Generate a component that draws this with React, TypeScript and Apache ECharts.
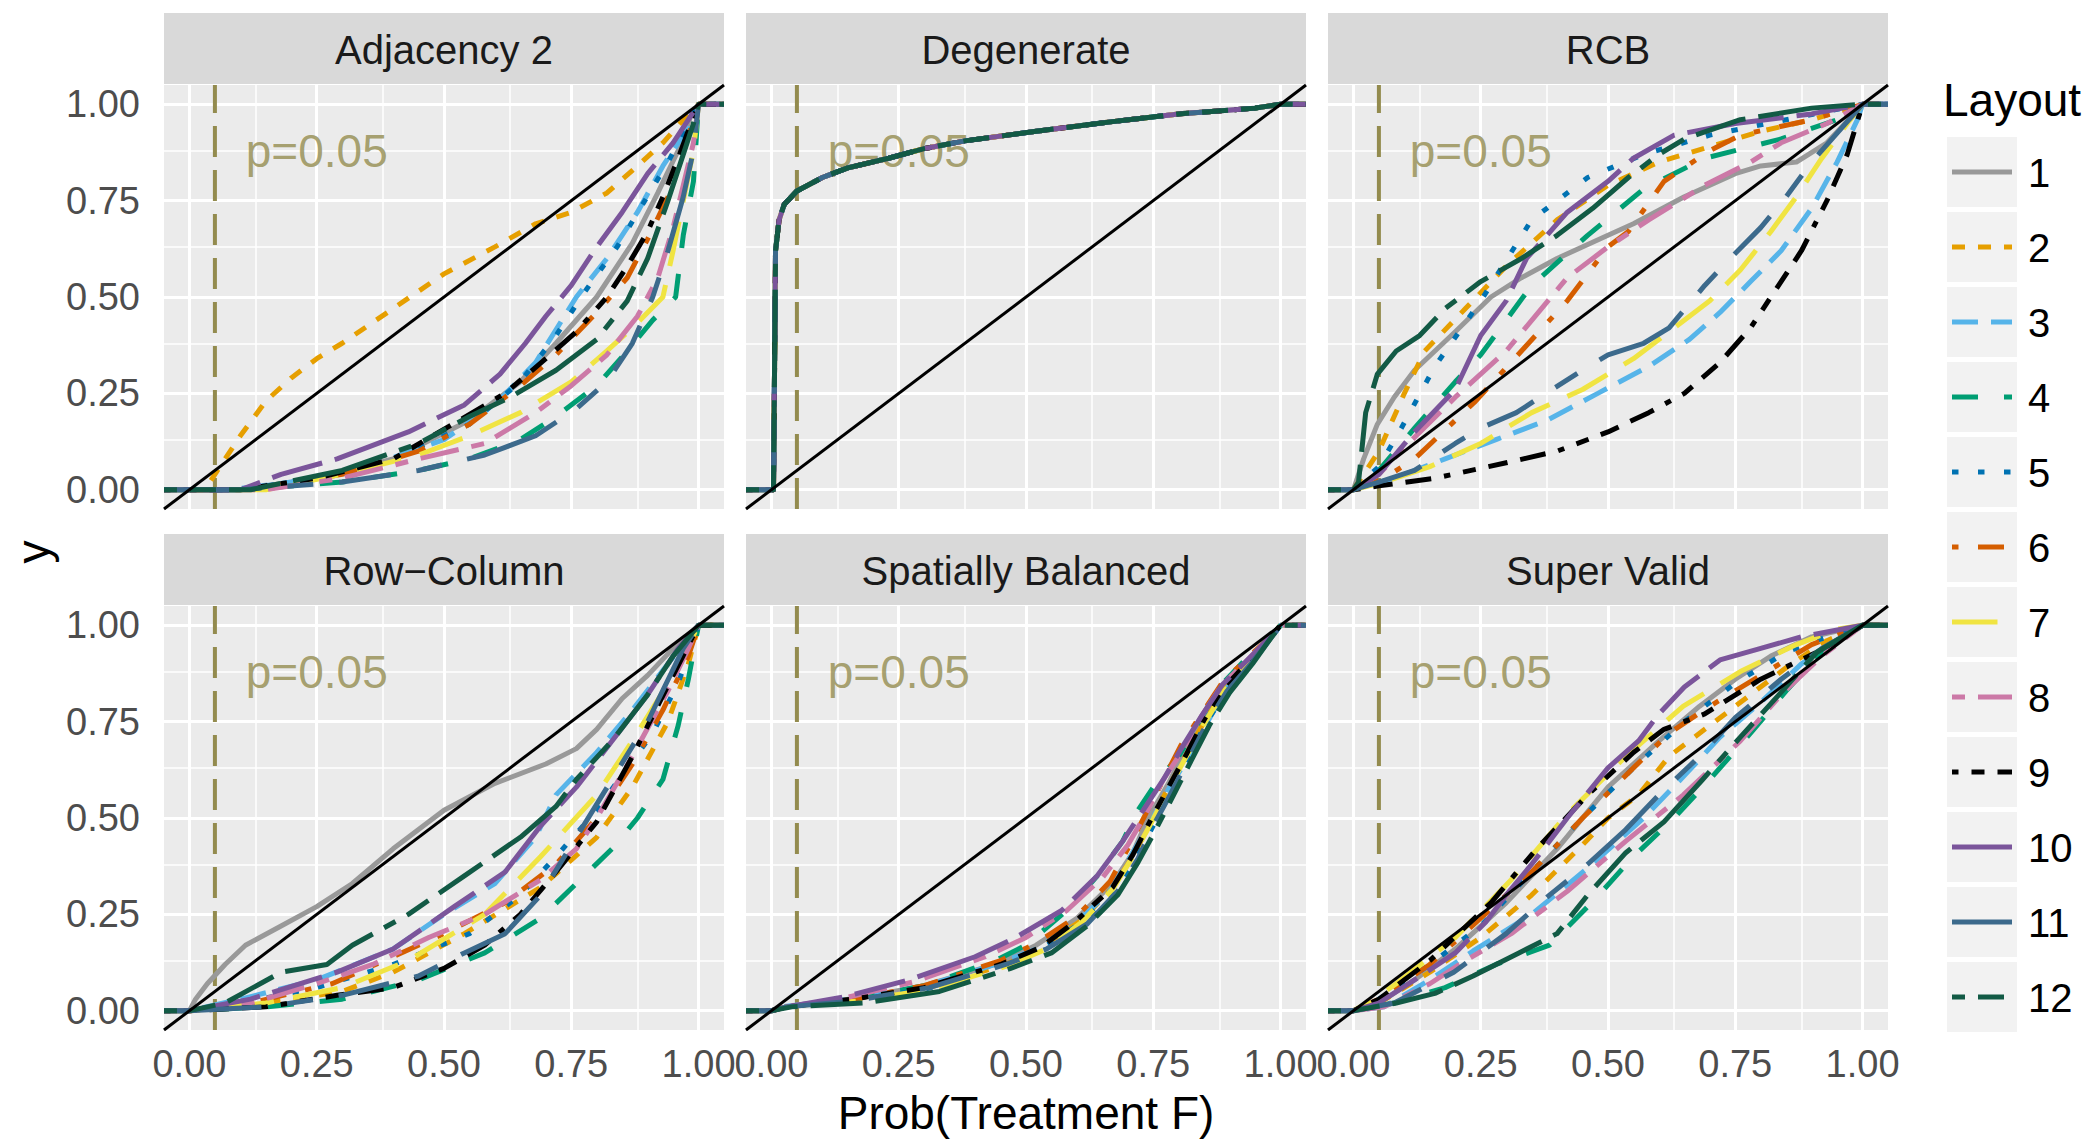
import React, { useEffect, useRef } from "react";
import * as echarts from "echarts";

type Pt = [number, number];

// ---------------- data ----------------
const layouts = ["1", "2", "3", "4", "5", "6", "7", "8", "9", "10", "11", "12"];
const layoutColors = [
  "#999999", "#E69F00", "#56B4E9", "#009E73", "#0072B2", "#D55E00",
  "#F0E442", "#CC79A7", "#000000", "#7B559B", "#3C6A8C", "#125A45",
];
// ggplot linetype palette (units of line width)
const layoutDashUnits: (number[] | null)[] = [
  null, [2, 2], [4, 2], [4, 4], [1, 3], [1, 3, 4, 3], [7, 3], [2, 2, 6, 2],
  [1, 2, 2, 2, 3, 2, 4, 2], [15, 2, 8, 2], [15, 4, 4, 4, 8, 4, 4, 4], [2, 2, 4, 2, 8, 2, 15, 2],
];
const panelTitles = ["Adjacency 2", "Degenerate", "RCB", "Row\u2212Column", "Spatially Balanced", "Super Valid"];
const majorTicks = [0, 0.25, 0.5, 0.75, 1];
const minorTicks = [0.125, 0.375, 0.625, 0.875];
const axisMin = -0.05;
const axisMax = 1.05;
const pValue = 0.05;
const pLabel = "p=0.05";
const pLabelPos: Pt = [0.25, 0.88];
const xTitle = "Prob(Treatment F)";
const yTitle = "y";
const legendTitle = "Layout";

const adjacency2: Pt[][] = [
  [[-0.05, 0], [0.1, 0], [0.25, 0.03], [0.4, 0.08], [0.55, 0.18], [0.65, 0.28], [0.72, 0.38], [0.8, 0.5], [0.87, 0.64], [0.92, 0.77], [0.96, 0.88], [0.985, 0.97], [1, 1], [1.05, 1]],
  [[-0.05, 0], [0.03, 0], [0.05, 0.04], [0.1, 0.14], [0.15, 0.23], [0.2, 0.29], [0.25, 0.34], [0.3, 0.38], [0.4, 0.47], [0.5, 0.56], [0.6, 0.63], [0.68, 0.69], [0.75, 0.72], [0.82, 0.77], [0.88, 0.84], [0.93, 0.9], [0.97, 0.96], [1, 1], [1.05, 1]],
  [[-0.05, 0], [0.08, 0], [0.2, 0.02], [0.35, 0.06], [0.5, 0.13], [0.6, 0.22], [0.68, 0.33], [0.76, 0.5], [0.82, 0.6], [0.88, 0.72], [0.93, 0.84], [0.975, 0.93], [1, 1], [1.05, 1]],
  [[-0.05, 0], [0.1, 0], [0.3, 0.02], [0.45, 0.05], [0.55, 0.08], [0.65, 0.13], [0.72, 0.19], [0.8, 0.27], [0.86, 0.36], [0.91, 0.44], [0.955, 0.5], [0.97, 0.66], [0.99, 0.8], [1, 1], [1.05, 1]],
  [[-0.05, 0], [0.1, 0], [0.25, 0.03], [0.4, 0.08], [0.55, 0.17], [0.65, 0.28], [0.72, 0.4], [0.78, 0.52], [0.84, 0.63], [0.89, 0.74], [0.94, 0.85], [0.98, 0.95], [1, 1], [1.05, 1]],
  [[-0.05, 0], [0.12, 0], [0.3, 0.04], [0.45, 0.1], [0.55, 0.17], [0.65, 0.27], [0.72, 0.35], [0.8, 0.46], [0.86, 0.55], [0.9, 0.65], [0.94, 0.76], [0.97, 0.88], [1, 1], [1.05, 1]],
  [[-0.05, 0], [0.15, 0], [0.3, 0.04], [0.45, 0.09], [0.55, 0.14], [0.65, 0.2], [0.75, 0.28], [0.82, 0.36], [0.87, 0.42], [0.93, 0.5], [0.95, 0.62], [0.97, 0.75], [0.99, 0.88], [1, 1], [1.05, 1]],
  [[-0.05, 0], [0.15, 0], [0.3, 0.03], [0.45, 0.08], [0.58, 0.12], [0.68, 0.2], [0.75, 0.27], [0.82, 0.35], [0.88, 0.45], [0.92, 0.55], [0.95, 0.68], [0.97, 0.79], [0.99, 0.9], [1, 1], [1.05, 1]],
  [[-0.05, 0], [0.1, 0], [0.25, 0.03], [0.4, 0.08], [0.53, 0.18], [0.62, 0.25], [0.7, 0.34], [0.76, 0.41], [0.82, 0.5], [0.86, 0.58], [0.9, 0.67], [0.93, 0.76], [0.96, 0.86], [0.985, 0.95], [1, 1], [1.05, 1]],
  [[-0.05, 0], [0.1, 0], [0.18, 0.04], [0.29, 0.08], [0.43, 0.15], [0.54, 0.22], [0.61, 0.3], [0.66, 0.38], [0.7, 0.45], [0.75, 0.53], [0.8, 0.63], [0.85, 0.72], [0.9, 0.82], [0.95, 0.9], [0.99, 0.98], [1, 1], [1.05, 1]],
  [[-0.05, 0], [0.1, 0], [0.3, 0.02], [0.45, 0.05], [0.58, 0.09], [0.68, 0.14], [0.76, 0.21], [0.82, 0.28], [0.87, 0.38], [0.91, 0.5], [0.94, 0.62], [0.97, 0.76], [0.99, 0.88], [1, 1], [1.05, 1]],
  [[-0.05, 0], [0.12, 0], [0.3, 0.05], [0.45, 0.12], [0.55, 0.19], [0.63, 0.24], [0.72, 0.31], [0.8, 0.39], [0.86, 0.49], [0.9, 0.6], [0.94, 0.75], [0.97, 0.87], [0.99, 0.95], [1, 1], [1.05, 1]],
];

const degenerateCurve: Pt[] = [
  [-0.05, 0], [0.004, 0], [0.006, 0.3], [0.008, 0.62], [0.015, 0.7], [0.025, 0.74], [0.05, 0.775], [0.1, 0.81], [0.15, 0.835],
  [0.23, 0.86], [0.3, 0.885], [0.38, 0.905], [0.52, 0.93], [0.67, 0.955], [0.8, 0.975], [0.95, 0.99], [1, 1], [1.05, 1],
];
const degenerate: Pt[][] = layouts.map(() => degenerateCurve);

const rcb: Pt[][] = [
  [[-0.05, 0], [0, 0], [0.02, 0.08], [0.047, 0.17], [0.08, 0.24], [0.12, 0.31], [0.2, 0.41], [0.27, 0.5], [0.33, 0.55], [0.4, 0.6], [0.5, 0.66], [0.55, 0.69], [0.65, 0.76], [0.75, 0.82], [0.8, 0.84], [0.87, 0.85], [0.93, 0.9], [0.98, 0.97], [1, 1], [1.05, 1]],
  [[-0.05, 0], [0, 0], [0.05, 0.1], [0.1, 0.25], [0.14, 0.36], [0.22, 0.47], [0.3, 0.58], [0.4, 0.7], [0.5, 0.79], [0.6, 0.85], [0.7, 0.89], [0.8, 0.93], [0.9, 0.96], [1, 1], [1.05, 1]],
  [[-0.05, 0], [0, 0], [0.08, 0.03], [0.18, 0.08], [0.28, 0.13], [0.38, 0.18], [0.48, 0.25], [0.58, 0.32], [0.66, 0.39], [0.72, 0.46], [0.78, 0.54], [0.84, 0.62], [0.9, 0.73], [0.95, 0.85], [0.99, 0.96], [1, 1], [1.05, 1]],
  [[-0.05, 0], [0, 0], [0.05, 0.05], [0.12, 0.16], [0.2, 0.28], [0.25, 0.35], [0.35, 0.53], [0.46, 0.66], [0.57, 0.78], [0.69, 0.86], [0.84, 0.91], [0.95, 0.96], [1, 1], [1.05, 1]],
  [[-0.05, 0], [0, 0], [0.05, 0.06], [0.09, 0.15], [0.16, 0.32], [0.25, 0.49], [0.35, 0.7], [0.46, 0.81], [0.57, 0.87], [0.7, 0.92], [0.85, 0.96], [1, 1], [1.05, 1]],
  [[-0.05, 0], [0, 0], [0.06, 0.03], [0.12, 0.08], [0.24, 0.23], [0.33, 0.36], [0.42, 0.49], [0.5, 0.63], [0.54, 0.67], [0.61, 0.8], [0.7, 0.88], [0.76, 0.92], [0.9, 0.96], [1, 1], [1.05, 1]],
  [[-0.05, 0], [0, 0], [0.06, 0.02], [0.15, 0.06], [0.25, 0.12], [0.35, 0.2], [0.45, 0.26], [0.55, 0.34], [0.63, 0.42], [0.7, 0.49], [0.76, 0.57], [0.82, 0.67], [0.87, 0.76], [0.92, 0.86], [0.97, 0.95], [1, 1], [1.05, 1]],
  [[-0.05, 0], [0, 0], [0.05, 0.04], [0.1, 0.11], [0.2, 0.24], [0.3, 0.36], [0.42, 0.55], [0.5, 0.63], [0.58, 0.7], [0.69, 0.79], [0.78, 0.85], [0.84, 0.9], [0.93, 0.95], [1, 1], [1.05, 1]],
  [[-0.05, 0], [0, 0], [0.05, 0.01], [0.16, 0.03], [0.3, 0.07], [0.4, 0.1], [0.5, 0.15], [0.58, 0.2], [0.65, 0.25], [0.72, 0.33], [0.78, 0.42], [0.83, 0.52], [0.88, 0.62], [0.93, 0.75], [0.97, 0.87], [1, 1], [1.05, 1]],
  [[-0.05, 0], [0, 0], [0.05, 0.04], [0.12, 0.15], [0.2, 0.26], [0.25, 0.4], [0.3, 0.49], [0.34, 0.6], [0.42, 0.72], [0.5, 0.8], [0.55, 0.86], [0.63, 0.92], [0.75, 0.95], [0.9, 0.975], [1, 1], [1.05, 1]],
  [[-0.05, 0], [0, 0], [0.05, 0.02], [0.12, 0.05], [0.2, 0.12], [0.25, 0.16], [0.32, 0.2], [0.39, 0.26], [0.45, 0.31], [0.5, 0.35], [0.57, 0.38], [0.62, 0.42], [0.69, 0.53], [0.74, 0.6], [0.8, 0.68], [0.85, 0.76], [0.9, 0.85], [0.96, 0.94], [1, 1], [1.05, 1]],
  [[-0.05, 0], [0, 0], [0.01, 0.02], [0.024, 0.2], [0.047, 0.3], [0.084, 0.36], [0.13, 0.4], [0.18, 0.47], [0.25, 0.54], [0.33, 0.6], [0.4, 0.66], [0.47, 0.73], [0.54, 0.81], [0.6, 0.87], [0.65, 0.91], [0.76, 0.96], [0.9, 0.99], [1, 1], [1.05, 1]],
];

const rowColumn: Pt[][] = [
  [[-0.05, 0], [0, 0], [0.012, 0.03], [0.035, 0.07], [0.07, 0.12], [0.11, 0.17], [0.18, 0.22], [0.25, 0.27], [0.32, 0.33], [0.4, 0.42], [0.5, 0.52], [0.6, 0.59], [0.7, 0.64], [0.76, 0.68], [0.8, 0.73], [0.85, 0.81], [0.9, 0.87], [0.95, 0.94], [1, 1], [1.05, 1]],
  [[-0.05, 0], [0, 0], [0.15, 0.02], [0.3, 0.05], [0.4, 0.1], [0.54, 0.2], [0.69, 0.32], [0.8, 0.45], [0.87, 0.58], [0.94, 0.75], [0.98, 0.9], [1, 1], [1.05, 1]],
  [[-0.05, 0], [0, 0], [0.1, 0.03], [0.25, 0.08], [0.4, 0.16], [0.5, 0.25], [0.6, 0.33], [0.68, 0.45], [0.72, 0.56], [0.8, 0.67], [0.87, 0.78], [0.94, 0.9], [1, 1], [1.05, 1]],
  [[-0.05, 0], [0, 0], [0.15, 0.01], [0.3, 0.03], [0.45, 0.08], [0.58, 0.15], [0.69, 0.24], [0.76, 0.33], [0.83, 0.42], [0.88, 0.5], [0.93, 0.6], [0.96, 0.74], [0.98, 0.86], [1, 1], [1.05, 1]],
  [[-0.05, 0], [0, 0], [0.1, 0.02], [0.25, 0.06], [0.4, 0.12], [0.55, 0.2], [0.65, 0.3], [0.72, 0.4], [0.8, 0.52], [0.86, 0.63], [0.91, 0.72], [0.96, 0.85], [1, 1], [1.05, 1]],
  [[-0.05, 0], [0, 0], [0.12, 0.02], [0.28, 0.07], [0.4, 0.14], [0.5, 0.2], [0.62, 0.28], [0.72, 0.38], [0.8, 0.5], [0.87, 0.64], [0.93, 0.78], [0.98, 0.92], [1, 1], [1.05, 1]],
  [[-0.05, 0], [0, 0], [0.15, 0.02], [0.3, 0.06], [0.43, 0.13], [0.58, 0.25], [0.69, 0.4], [0.8, 0.56], [0.87, 0.7], [0.95, 0.87], [1, 1], [1.05, 1]],
  [[-0.05, 0], [0, 0], [0.12, 0.02], [0.25, 0.07], [0.36, 0.12], [0.47, 0.19], [0.58, 0.25], [0.69, 0.34], [0.76, 0.42], [0.8, 0.5], [0.87, 0.66], [0.94, 0.83], [0.98, 0.94], [1, 1], [1.05, 1]],
  [[-0.05, 0], [0, 0], [0.15, 0.01], [0.29, 0.04], [0.4, 0.06], [0.5, 0.11], [0.58, 0.17], [0.65, 0.25], [0.72, 0.36], [0.8, 0.49], [0.87, 0.66], [0.95, 0.87], [1, 1], [1.05, 1]],
  [[-0.05, 0], [0, 0], [0.12, 0.03], [0.29, 0.1], [0.4, 0.16], [0.52, 0.27], [0.62, 0.36], [0.69, 0.48], [0.76, 0.58], [0.83, 0.7], [0.9, 0.82], [0.96, 0.94], [1, 1], [1.05, 1]],
  [[-0.05, 0], [0, 0], [0.15, 0.01], [0.3, 0.04], [0.45, 0.09], [0.54, 0.15], [0.62, 0.2], [0.69, 0.3], [0.76, 0.45], [0.83, 0.6], [0.9, 0.75], [0.97, 0.94], [1, 1], [1.05, 1]],
  [[-0.05, 0], [0, 0], [0.07, 0.02], [0.18, 0.1], [0.27, 0.12], [0.32, 0.17], [0.43, 0.25], [0.54, 0.35], [0.65, 0.45], [0.72, 0.53], [0.76, 0.6], [0.83, 0.7], [0.9, 0.82], [0.95, 0.92], [1, 1], [1.05, 1]],
];

const spatiallyBalanced: Pt[][] = [
  [[-0.05, 0], [0, 0], [0.03, 0.01], [0.16, 0.03], [0.3, 0.065], [0.45, 0.125], [0.52, 0.17], [0.6, 0.24], [0.67, 0.33], [0.71, 0.41], [0.74, 0.5], [0.78, 0.59], [0.81, 0.67], [0.85, 0.76], [0.89, 0.84], [0.94, 0.91], [0.98, 0.97], [1, 1], [1.05, 1]],
  [[-0.05, 0], [0, 0], [0.03, 0.01], [0.17, 0.03], [0.31, 0.06], [0.46, 0.12], [0.53, 0.165], [0.61, 0.235], [0.67, 0.32], [0.71, 0.4], [0.745, 0.49], [0.78, 0.58], [0.815, 0.665], [0.85, 0.75], [0.89, 0.835], [0.94, 0.905], [0.98, 0.97], [1, 1], [1.05, 1]],
  [[-0.05, 0], [0, 0], [0.02, 0.01], [0.15, 0.03], [0.29, 0.06], [0.44, 0.12], [0.52, 0.16], [0.6, 0.23], [0.665, 0.31], [0.705, 0.4], [0.745, 0.49], [0.78, 0.575], [0.82, 0.66], [0.855, 0.745], [0.89, 0.83], [0.94, 0.905], [0.98, 0.965], [1, 1], [1.05, 1]],
  [[-0.05, 0], [0, 0], [0.03, 0.01], [0.16, 0.03], [0.3, 0.065], [0.44, 0.13], [0.5, 0.17], [0.58, 0.26], [0.64, 0.35], [0.69, 0.44], [0.72, 0.52], [0.76, 0.6], [0.8, 0.66], [0.84, 0.75], [0.88, 0.84], [0.93, 0.91], [0.98, 0.97], [1, 1], [1.05, 1]],
  [[-0.05, 0], [0, 0], [0.02, 0.01], [0.15, 0.025], [0.3, 0.055], [0.45, 0.115], [0.53, 0.16], [0.61, 0.23], [0.675, 0.31], [0.715, 0.39], [0.75, 0.48], [0.785, 0.57], [0.82, 0.66], [0.855, 0.75], [0.895, 0.83], [0.94, 0.905], [0.98, 0.965], [1, 1], [1.05, 1]],
  [[-0.05, 0], [0, 0], [0.03, 0.01], [0.16, 0.03], [0.3, 0.065], [0.45, 0.13], [0.52, 0.175], [0.6, 0.245], [0.665, 0.335], [0.7, 0.42], [0.735, 0.51], [0.77, 0.6], [0.805, 0.69], [0.845, 0.77], [0.885, 0.85], [0.935, 0.915], [0.98, 0.97], [1, 1], [1.05, 1]],
  [[-0.05, 0], [0, 0], [0.03, 0.01], [0.17, 0.025], [0.31, 0.055], [0.46, 0.115], [0.54, 0.16], [0.61, 0.23], [0.67, 0.315], [0.71, 0.4], [0.745, 0.485], [0.78, 0.575], [0.815, 0.66], [0.85, 0.745], [0.89, 0.83], [0.94, 0.905], [0.98, 0.965], [1, 1], [1.05, 1]],
  [[-0.05, 0], [0, 0], [0.03, 0.01], [0.15, 0.035], [0.28, 0.075], [0.42, 0.14], [0.5, 0.19], [0.58, 0.26], [0.65, 0.345], [0.7, 0.43], [0.735, 0.51], [0.77, 0.6], [0.81, 0.68], [0.845, 0.765], [0.885, 0.845], [0.935, 0.91], [0.98, 0.97], [1, 1], [1.05, 1]],
  [[-0.05, 0], [0, 0], [0.03, 0.01], [0.16, 0.03], [0.3, 0.06], [0.45, 0.12], [0.53, 0.165], [0.6, 0.235], [0.67, 0.32], [0.71, 0.405], [0.745, 0.495], [0.78, 0.58], [0.815, 0.665], [0.85, 0.755], [0.89, 0.84], [0.94, 0.91], [0.98, 0.97], [1, 1], [1.05, 1]],
  [[-0.05, 0], [0, 0], [0.03, 0.01], [0.14, 0.035], [0.27, 0.08], [0.4, 0.14], [0.48, 0.19], [0.57, 0.26], [0.64, 0.35], [0.69, 0.44], [0.73, 0.52], [0.77, 0.6], [0.805, 0.68], [0.845, 0.765], [0.885, 0.845], [0.935, 0.91], [0.98, 0.97], [1, 1], [1.05, 1]],
  [[-0.05, 0], [0, 0], [0.03, 0.01], [0.16, 0.025], [0.31, 0.06], [0.46, 0.12], [0.54, 0.16], [0.62, 0.225], [0.68, 0.31], [0.72, 0.395], [0.75, 0.48], [0.785, 0.565], [0.82, 0.655], [0.855, 0.745], [0.895, 0.83], [0.945, 0.905], [0.98, 0.965], [1, 1], [1.05, 1]],
  [[-0.05, 0], [0, 0], [0.04, 0.01], [0.18, 0.02], [0.33, 0.05], [0.47, 0.11], [0.55, 0.15], [0.62, 0.22], [0.68, 0.3], [0.72, 0.385], [0.755, 0.47], [0.79, 0.56], [0.825, 0.65], [0.86, 0.74], [0.9, 0.825], [0.945, 0.9], [0.98, 0.965], [1, 1], [1.05, 1]],
];

const superValid: Pt[][] = [
  [[-0.05, 0], [0, 0], [0.05, 0.02], [0.12, 0.08], [0.2, 0.16], [0.3, 0.28], [0.4, 0.42], [0.5, 0.58], [0.6, 0.7], [0.68, 0.79], [0.75, 0.86], [0.82, 0.92], [0.9, 0.97], [1, 1], [1.05, 1]],
  [[-0.05, 0], [0, 0], [0.05, 0.02], [0.15, 0.1], [0.25, 0.19], [0.35, 0.3], [0.45, 0.43], [0.5, 0.5], [0.56, 0.56], [0.62, 0.66], [0.7, 0.74], [0.78, 0.82], [0.86, 0.9], [0.93, 0.96], [1, 1], [1.05, 1]],
  [[-0.05, 0], [0, 0], [0.06, 0.01], [0.15, 0.08], [0.235, 0.155], [0.35, 0.25], [0.46, 0.37], [0.57, 0.5], [0.65, 0.61], [0.72, 0.71], [0.8, 0.8], [0.88, 0.9], [0.95, 0.96], [1, 1], [1.05, 1]],
  [[-0.05, 0], [0, 0], [0.08, 0.02], [0.18, 0.06], [0.28, 0.12], [0.385, 0.17], [0.475, 0.29], [0.55, 0.4], [0.63, 0.5], [0.7, 0.6], [0.78, 0.72], [0.85, 0.83], [0.92, 0.93], [1, 1], [1.05, 1]],
  [[-0.05, 0], [0, 0], [0.05, 0.03], [0.15, 0.12], [0.25, 0.22], [0.35, 0.36], [0.45, 0.5], [0.55, 0.63], [0.65, 0.75], [0.75, 0.85], [0.85, 0.93], [0.95, 0.98], [1, 1], [1.05, 1]],
  [[-0.05, 0], [0, 0], [0.05, 0.03], [0.15, 0.12], [0.25, 0.24], [0.35, 0.36], [0.45, 0.5], [0.55, 0.63], [0.62, 0.72], [0.7, 0.79], [0.8, 0.87], [0.9, 0.95], [1, 1], [1.05, 1]],
  [[-0.05, 0], [0, 0], [0.04, 0.03], [0.084, 0.07], [0.2, 0.19], [0.31, 0.34], [0.42, 0.51], [0.535, 0.66], [0.648, 0.79], [0.76, 0.88], [0.87, 0.95], [0.95, 0.99], [1, 1], [1.05, 1]],
  [[-0.05, 0], [0, 0], [0.06, 0.01], [0.15, 0.07], [0.22, 0.13], [0.31, 0.2], [0.42, 0.31], [0.535, 0.44], [0.648, 0.56], [0.76, 0.7], [0.84, 0.82], [0.92, 0.92], [1, 1], [1.05, 1]],
  [[-0.05, 0], [0, 0], [0.05, 0.03], [0.15, 0.13], [0.27, 0.28], [0.36, 0.42], [0.46, 0.56], [0.55, 0.67], [0.61, 0.73], [0.69, 0.77], [0.8, 0.86], [0.91, 0.93], [1, 1], [1.05, 1]],
  [[-0.05, 0], [0, 0], [0.05, 0.02], [0.12, 0.08], [0.2, 0.15], [0.26, 0.23], [0.3, 0.3], [0.35, 0.38], [0.42, 0.5], [0.5, 0.63], [0.56, 0.7], [0.6, 0.77], [0.65, 0.84], [0.72, 0.91], [0.8, 0.94], [0.88, 0.97], [1, 1], [1.05, 1]],
  [[-0.05, 0], [0, 0], [0.08, 0.02], [0.197, 0.1], [0.3, 0.2], [0.385, 0.3], [0.46, 0.38], [0.535, 0.47], [0.6, 0.56], [0.68, 0.66], [0.75, 0.76], [0.84, 0.86], [0.92, 0.94], [1, 1], [1.05, 1]],
  [[-0.05, 0], [0, 0], [0.084, 0.02], [0.16, 0.045], [0.235, 0.09], [0.325, 0.15], [0.4, 0.2], [0.46, 0.3], [0.535, 0.41], [0.61, 0.49], [0.686, 0.6], [0.76, 0.71], [0.836, 0.82], [0.91, 0.93], [1, 1], [1.05, 1]],
];

const panels: Pt[][][] = [adjacency2, degenerate, rcb, rowColumn, spatiallyBalanced, superValid];

// ---------------- styling / layout ----------------
const FONT = "'Liberation Sans', Arial, Helvetica, sans-serif";
const PANEL_LEFT = [164, 746, 1328];
const PANEL_TOP = [85, 606];
const PANEL_W = 560;
const PANEL_H = 424;
const STRIP_H = 71;
const STRIP_GAP = 1;
const DASH_UNIT = 6.5;
const LINE_W = 5;
const OLIVE = "#938B4E";

function dashFor(i: number): any {
  const d = layoutDashUnits[i];
  return d ? d.map((v) => v * DASH_UNIT) : "solid";
}

function buildOption(): any {
  const grid: any[] = [];
  const xAxis: any[] = [];
  const yAxis: any[] = [];
  const series: any[] = [];
  const graphic: any[] = [];

  panels.forEach((curves, p) => {
    const row = Math.floor(p / 3);
    const col = p % 3;
    const left = PANEL_LEFT[col];
    const top = PANEL_TOP[row];
    grid.push({
      left, top, width: PANEL_W, height: PANEL_H,
      show: true, backgroundColor: "#EBEBEB", borderWidth: 0, containLabel: false,
    });
    const showX = row === 1;
    const showY = col === 0;
    xAxis.push({
      type: "value", gridIndex: p, min: axisMin, max: axisMax,
      axisLine: { show: false }, splitLine: { show: false },
      axisTick: { show: showX, customValues: majorTicks, length: 9, lineStyle: { color: "#333333", width: 2.5 } },
      axisLabel: {
        show: showX, customValues: majorTicks, formatter: (v: number) => v.toFixed(2),
        fontSize: 38, color: "#4D4D4D", margin: 15, fontFamily: FONT,
      },
      name: p === 4 ? xTitle : "", nameLocation: "middle", nameGap: 60,
      nameTextStyle: { fontSize: 46, color: "#000000", fontFamily: FONT },
    });
    yAxis.push({
      type: "value", gridIndex: p, min: axisMin, max: axisMax,
      axisLine: { show: false }, splitLine: { show: false },
      axisTick: { show: showY, customValues: majorTicks, length: 9, lineStyle: { color: "#333333", width: 2.5 } },
      axisLabel: {
        show: showY, customValues: majorTicks, formatter: (v: number) => v.toFixed(2),
        fontSize: 38, color: "#4D4D4D", margin: 24, fontFamily: FONT,
      },
    });

    // gridlines
    const gl = (axis: "xAxis" | "yAxis", v: number, w: number) => ({
      [axis]: v, lineStyle: { color: "#FFFFFF", width: w, type: "solid" },
    });
    series.push({
      type: "line", xAxisIndex: p, yAxisIndex: p, data: [], silent: true, z: 1,
      markLine: {
        silent: true, symbol: ["none", "none"], z: 1, animation: false,
        label: { show: false }, emphasis: { disabled: true },
        data: [
          ...minorTicks.map((v) => gl("xAxis", v, 1.5)),
          ...minorTicks.map((v) => gl("yAxis", v, 1.5)),
          ...majorTicks.map((v) => gl("xAxis", v, 3)),
          ...majorTicks.map((v) => gl("yAxis", v, 3)),
        ],
      },
    });

    // annotation text
    series.push({
      type: "scatter", xAxisIndex: p, yAxisIndex: p, data: [pLabelPos], z: 2, silent: true,
      symbolSize: 1, itemStyle: { color: "rgba(0,0,0,0)" },
      label: { show: true, position: "inside", formatter: pLabel, fontSize: 46, color: OLIVE, fontFamily: FONT },
      emphasis: { disabled: true },
    });

    // vertical p line
    series.push({
      type: "line", xAxisIndex: p, yAxisIndex: p, z: 3, silent: true, symbol: "none",
      data: [[pValue, axisMin], [pValue, axisMax]],
      lineStyle: { color: OLIVE, width: 4, type: [31, 13] },
      emphasis: { disabled: true },
    });

    // ecdf curves
    curves.forEach((curve, i) => {
      series.push({
        type: "line", name: layouts[i], xAxisIndex: p, yAxisIndex: p, z: 4, silent: true,
        data: curve, symbol: "none", showSymbol: false,
        lineStyle: { color: layoutColors[i], width: LINE_W, type: dashFor(i), cap: "butt", join: "round" },
        emphasis: { disabled: true },
      });
    });

    // diagonal
    series.push({
      type: "line", xAxisIndex: p, yAxisIndex: p, z: 5, silent: true, symbol: "none",
      data: [[axisMin, axisMin], [axisMax, axisMax]],
      lineStyle: { color: "#000000", width: 3 },
      emphasis: { disabled: true },
    });

    // strip
    graphic.push({
      type: "rect", silent: true,
      shape: { x: left, y: top - STRIP_H - STRIP_GAP, width: PANEL_W, height: STRIP_H },
      style: { fill: "#D9D9D9" },
    });
    graphic.push({
      type: "text", silent: true, x: left + PANEL_W / 2, y: top - STRIP_GAP - STRIP_H / 2 + 1,
      style: { text: panelTitles[p], fontSize: 40, fontFamily: FONT, fill: "#1A1A1A", align: "center", verticalAlign: "middle" },
    });
  });

  // y axis title
  graphic.push({
    type: "text", silent: true, x: 33, y: 552, rotation: Math.PI / 2,
    style: { text: yTitle, fontSize: 46, fontFamily: FONT, fill: "#000000", align: "center", verticalAlign: "middle" },
  });

  // legend
  graphic.push({
    type: "text", silent: true, x: 1943, y: 100,
    style: { text: legendTitle, fontSize: 46, fontFamily: FONT, fill: "#000000", align: "left", verticalAlign: "middle" },
  });
  layouts.forEach((name, i) => {
    const cy = 172 + 75 * i;
    graphic.push({
      type: "rect", silent: true, shape: { x: 1947, y: cy - 35, width: 70, height: 70 },
      style: { fill: "#F2F2F2" },
    });
    const d = layoutDashUnits[i];
    graphic.push({
      type: "line", silent: true, shape: { x1: 1952, y1: cy, x2: 2012, y2: cy },
      style: {
        stroke: layoutColors[i], lineWidth: LINE_W, lineCap: "butt",
        lineDash: d ? d.map((v) => v * DASH_UNIT) : null,
      },
    });
    graphic.push({
      type: "text", silent: true, x: 2028, y: cy + 1,
      style: { text: name, fontSize: 40, fontFamily: FONT, fill: "#000000", align: "left", verticalAlign: "middle" },
    });
  });

  return {
    animation: false,
    backgroundColor: "#FFFFFF",
    textStyle: { fontFamily: FONT },
    grid, xAxis, yAxis, series, graphic,
  };
}

export default function App() {
  const ref = useRef<HTMLDivElement>(null);
  useEffect(() => {
    if (!ref.current) return;
    const chart = echarts.init(ref.current, null, { renderer: "svg" });
    chart.setOption(buildOption());
    return () => chart.dispose();
  }, []);
  return (
    <div
      ref={ref}
      style={{ position: "absolute", left: 0, top: 0, width: 2099, height: 1140, background: "#FFFFFF" }}
    />
  );
}
